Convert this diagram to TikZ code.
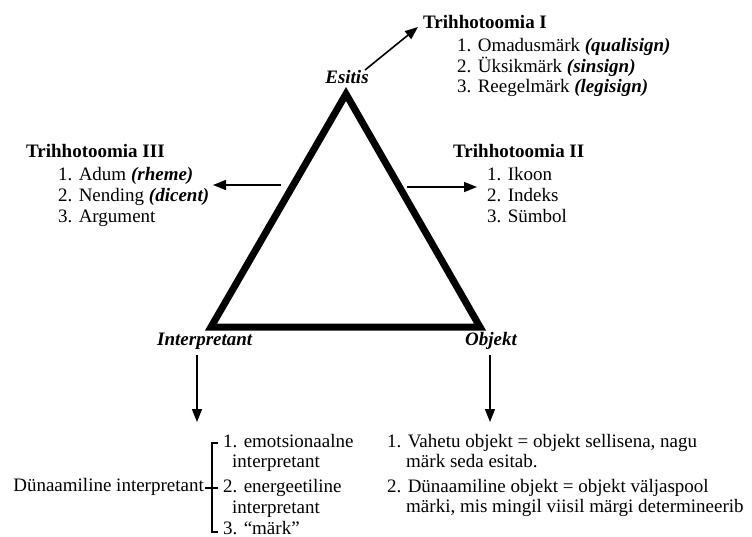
\documentclass[tikz,border=0pt]{standalone}
\usepackage{fontspec}
\setmainfont{Liberation Serif}
\usetikzlibrary{arrows.meta}
\begin{document}
\begin{tikzpicture}[x=1pt,y=-1pt,
  txt/.style={anchor=base west,inner sep=0pt,font=\fontsize{19}{21}\selectfont},
  head/.style={txt,font=\fontsize{19}{21}\selectfont\bfseries},
  corner/.style={inner sep=0pt,anchor=base,font=\fontsize{19}{21}\selectfont\bfseries\itshape},
  arr/.style={line width=1.6pt,-{Triangle[length=13pt,width=10pt]}},
  downarr/.style={line width=1.2pt,-{Triangle[length=13pt,width=10pt]}},
  tri/.style={line width=7pt,line join=miter},
  brace/.style={line width=1.1pt}]
\newcommand{\lat}[1]{\textbf{\textit{#1}}}
\useasboundingbox (0,0) rectangle (752,536);

% sign triangle
\coordinate (apex) at (346,94);
\coordinate (bl) at (211,327);
\coordinate (br) at (480,327);
\draw[tri] (apex) -- (bl) -- (br) -- cycle;

% vertex labels
\node[corner] (esitis) at (347,83) {Esitis};
\node[corner,anchor=base west] (interp) at (157,345) {Interpretant};
\node[corner,anchor=base west] (objekt) at (465,345) {Objekt};

% first trichotomy
\node[head] (t1) at (423,28) {Trihhotoomia I};
\node[txt] (t1a) at (457,51) {1. Omadusmärk \lat{(qualisign)}};
\node[txt] (t1b) at (457,72) {2. Üksikmärk \lat{(sinsign)}};
\node[txt] (t1c) at (457,92) {3. Reegelmärk \lat{(legisign)}};
\coordinate (e1s) at (365,70);
\coordinate (e1t) at (418,27);
\draw[arr] (e1s) -- (e1t);

% third trichotomy
\node[head] (t3) at (26,157) {Trihhotoomia III};
\node[txt] (t3a) at (58,180) {1. Adum \lat{(rheme)}};
\node[txt] (t3b) at (58,201) {2. Nending \lat{(dicent)}};
\node[txt] (t3c) at (58,222) {3. Argument};
\coordinate (e3s) at (281,185);
\coordinate (e3t) at (213,185);
\draw[arr] (e3s) -- (e3t);

% second trichotomy
\node[head] (t2) at (453,157) {Trihhotoomia II};
\node[txt] (t2a) at (487,180) {1. Ikoon};
\node[txt] (t2b) at (487,201) {2. Indeks};
\node[txt] (t2c) at (487,222) {3. Sümbol};
\coordinate (e2s) at (407,187);
\coordinate (e2t) at (477,187);
\draw[arr] (e2s) -- (e2t);

% downward arrows
\coordinate (is) at (197,355);
\coordinate (it) at (197,422);
\draw[downarr] (is) -- (it);
\coordinate (os) at (490,355);
\coordinate (ot) at (490,422);
\draw[downarr] (os) -- (ot);

% dynamic interpretant
\node[txt,anchor=base east] (dyn) at (204,491) {Dünaamiline interpretant};
\coordinate (bt) at (212,443);
\coordinate (bm) at (212,488);
\coordinate (bb) at (212,532);
\draw[brace] ([xshift=6pt]bt) -- (bt) -- (bb) -- ([xshift=6pt]bb);
\draw[brace] ([xshift=-7pt]bm) -- ([xshift=6pt]bm);
\node[txt] (d1) at (223,447) {1. emotsionaalne};
\node[txt] (d1b) at (232,467) {interpretant};
\node[txt] (d2) at (223,492) {2. energeetiline};
\node[txt] (d2b) at (232,513) {interpretant};
\node[txt] (d3) at (223,534) {3. “märk”};

% object
\node[txt] (o1) at (387,447) {1. Vahetu objekt = objekt sellisena, nagu};
\node[txt] (o1b) at (406,467) {märk seda esitab.};
\node[txt] (o2) at (387,492) {2. Dünaamiline objekt = objekt väljaspool};
\node[txt] (o2b) at (406,512) {märki, mis mingil viisil märgi determineerib};
\end{tikzpicture}
\end{document}
